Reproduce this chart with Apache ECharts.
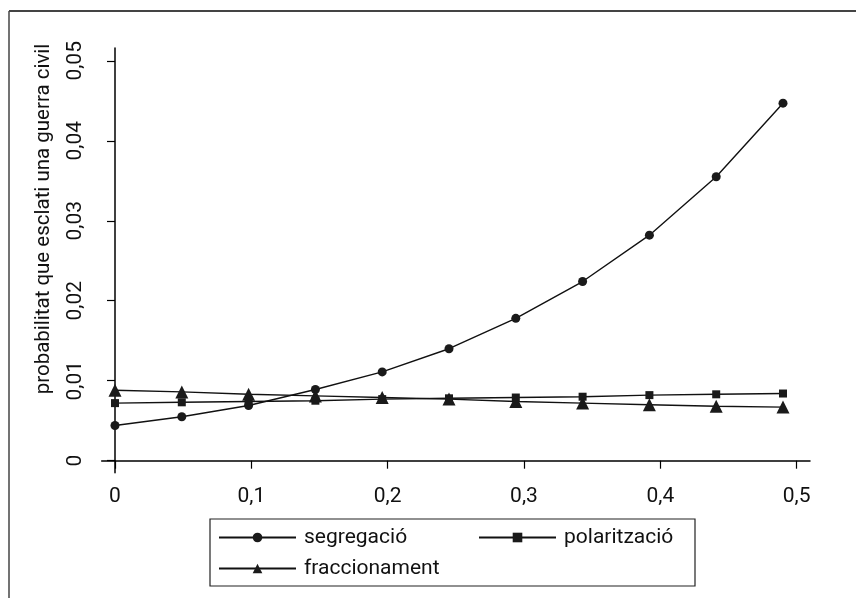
<!DOCTYPE html>
<html>
<head>
<meta charset="utf-8">
<script src="https://cdn.jsdelivr.net/npm/echarts@6/dist/echarts.min.js"></script>
<style>html,body{margin:0;padding:0;background:#fff}#c{width:856px;height:598px}</style>
</head>
<body>
<div id="c"></div>
<script>
const xValues = [0, 0.049, 0.098, 0.147, 0.196, 0.245, 0.294, 0.343, 0.392, 0.441, 0.49];
const segregacio = [0.0044, 0.0055, 0.0069, 0.0089, 0.0111, 0.0140, 0.0178, 0.0224, 0.0282, 0.0355, 0.0447];
const polaritzacio = [0.0072, 0.0073, 0.0074, 0.0075, 0.0077, 0.0078, 0.0079, 0.0080, 0.0082, 0.0083, 0.0084];
const fraccionament = [0.0088, 0.0086, 0.0083, 0.0081, 0.0079, 0.0077, 0.0074, 0.0072, 0.0070, 0.0068, 0.0067];
const xTicks = [0, 0.1, 0.2, 0.3, 0.4, 0.5];
const yTicks = [0, 0.01, 0.02, 0.03, 0.04, 0.05];
const yTitle = 'probabilitat que esclati una guerra civil';
const seriesNames = ['segregació', 'polarització', 'fraccionament'];

const FONT = 'Roboto';
const fmt = v => (v === 0 ? '0' : String(+v.toFixed(3)).replace('.', ','));
const pairs = ys => xValues.map((x, i) => [x, ys[i]]);

const chart = echarts.init(document.getElementById('c'), null, {renderer: 'canvas'});
const lineStyle = {color: '#111', width: 1.4};
function mk(name, data, symbol, size) {
  return {
    name, type: 'line', data: pairs(data), symbol, symbolSize: size,
    showAllSymbol: true, animation: false,
    itemStyle: {color: '#1a1a1a'}, lineStyle,
    emphasis: {disabled: true}
  };
}
chart.setOption({
  backgroundColor: '#fff',
  animation: false,
  grid: {left: 101.7, right: 46, top: 48, bottom: 125.3, containLabel: false, outerBoundsMode: 'none'},
  xAxis: {
    type: 'value', min: -0.00975, max: 0.5098,
    axisLine: {show: true, lineStyle: {color: '#000', width: 1.5}},
    axisTick: {show: true, length: 8, inside: false, customValues: xTicks, lineStyle: {color: '#000', width: 1.2}},
    axisLabel: {customValues: xTicks, formatter: fmt, margin: 14, color: '#111', fontFamily: FONT, fontSize: 21},
    splitLine: {show: false}
  },
  yAxis: {
    type: 'value', min: -0.0015, max: 0.0516,
    axisLine: {show: true, lineStyle: {color: '#000', width: 1.5}},
    axisTick: {show: true, length: 8, inside: false, customValues: yTicks, lineStyle: {color: '#000', width: 1.2}},
    axisLabel: {customValues: yTicks, formatter: fmt, rotate: 90, margin: 15, color: '#111', fontFamily: FONT, fontSize: 21},
    splitLine: {show: false}
  },
  legend: {
    left: 210, top: 519, width: 480,
    orient: 'horizontal',
    borderColor: '#222', borderWidth: 1.2,
    padding: [8, 13, 7, 8],
    itemWidth: 77, itemHeight: 12, itemGap: 10,
    textStyle: {fontFamily: FONT, fontSize: 21, color: '#111', lineHeight: 19, padding: [0, 0, 0, 3]},
    selectedMode: false,
    data: [
      {name: seriesNames[0], textStyle: {width: 164}},
      {name: seriesNames[1], textStyle: {width: 118}},
      {name: seriesNames[2], textStyle: {width: 164}}
    ]
  },
  graphic: [
    {type: 'line', shape: {x1: 9, y1: 11, x2: 856, y2: 11}, style: {stroke: '#444', lineWidth: 2}},
    {type: 'line', shape: {x1: 9, y1: 11, x2: 9, y2: 598}, style: {stroke: '#444', lineWidth: 1.5}},
    {type: 'text', x: 44, y: 219, rotation: Math.PI / 2,
     style: {text: yTitle, x: 0, y: 0, textAlign: 'center', textVerticalAlign: 'middle', fontFamily: FONT, fontSize: 20.5, fill: '#111'}}
  ],
  series: [
    mk(seriesNames[0], segregacio, 'circle', 9),
    mk(seriesNames[1], polaritzacio, 'rect', 8),
    mk(seriesNames[2], fraccionament, 'triangle', 13)
  ]
});
</script>
</body>
</html>
